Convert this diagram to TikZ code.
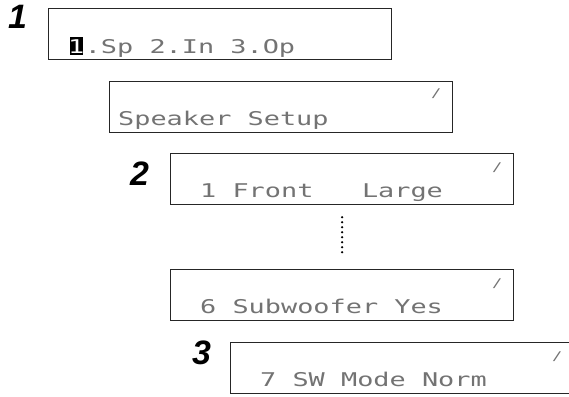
\documentclass[tikz,border=0pt]{standalone}
\usepackage{fontspec}
\setmainfont{Liberation Sans}
\newfontfamily\lcdfont[FakeStretch=1.42]{DejaVu Sans Mono}
\usetikzlibrary{positioning}

\tikzset{
  lcdbox/.style={draw=black!85, line width=1.2bp, minimum width=343bp, minimum height=51bp, inner sep=0pt, anchor=north west},
  lcdtext/.style={font={\lcdfont\fontsize{19}{20}\selectfont}, text=black!55, inner sep=0pt, anchor=base west},
  stepnum/.style={font={\fontsize{34}{34}\selectfont\bfseries\itshape}, inner sep=0pt, anchor=base west},
  marker/.style={font={\lcdfont\fontsize{12}{12}\selectfont}, text=black!55, inner sep=0pt},
}

\begin{document}
\begin{tikzpicture}[x=1bp,y=-1bp]
    \useasboundingbox (0,0) rectangle (569,396);
    % display windows
    \node[lcdbox] (menu) at (48,8) {};
    \node[lcdbox] (setup) at (109,81) {};
    \node[lcdbox] (front) at (170,153) {};
    \node[lcdbox] (sub) at (170,269) {};
    \node[lcdbox] (swmode) at (230,342) {};
    % step numbers
    \node[stepnum] (one) at (8,28) {1};
    \node[stepnum] (two) at (130,185) {2};
    \node[stepnum] (three) at (192,364) {3};
    % display texts
    \fill (70,37) rectangle (83,55);
    \node[lcdtext,text=white] (cursor) at ([xshift=20bp,yshift=7bp]menu.south west) {1};
    \node[lcdtext] (menutxt) at (cursor.base east) {.Sp~2.In~3.Op};
    \node[lcdtext] (setuptxt) at ([xshift=9bp,yshift=8bp]setup.south west) {Speaker~Setup};
    \node[lcdtext] (fronttxt) at ([xshift=30bp,yshift=8bp]front.south west) {1~Front~~~Large};
    \node[lcdtext] (subtxt) at ([xshift=30bp,yshift=8bp]sub.south west) {6~Subwoofer~Yes};
    \node[lcdtext] (swtxt) at ([xshift=30bp,yshift=8bp]swmode.south west) {7~SW~Mode~Norm};
    % scroll markers
    \node[marker] (mk2) at ([xshift=-17bp,yshift=-13bp]setup.north east) {/};
    \node[marker] (mk3) at ([xshift=-17bp,yshift=-15bp]front.north east) {/};
    \node[marker] (mk4) at ([xshift=-17bp,yshift=-15bp]sub.north east) {/};
    \node[marker] (mk5) at ([xshift=-17bp,yshift=-15bp]swmode.north east) {/};
    % skipped items
    \draw[line width=2.4bp, line cap=round, dash pattern=on 0pt off 5bp] ([yshift=-12bp]front.south) -- ([yshift=14bp]sub.north);
\end{tikzpicture}
\end{document}
